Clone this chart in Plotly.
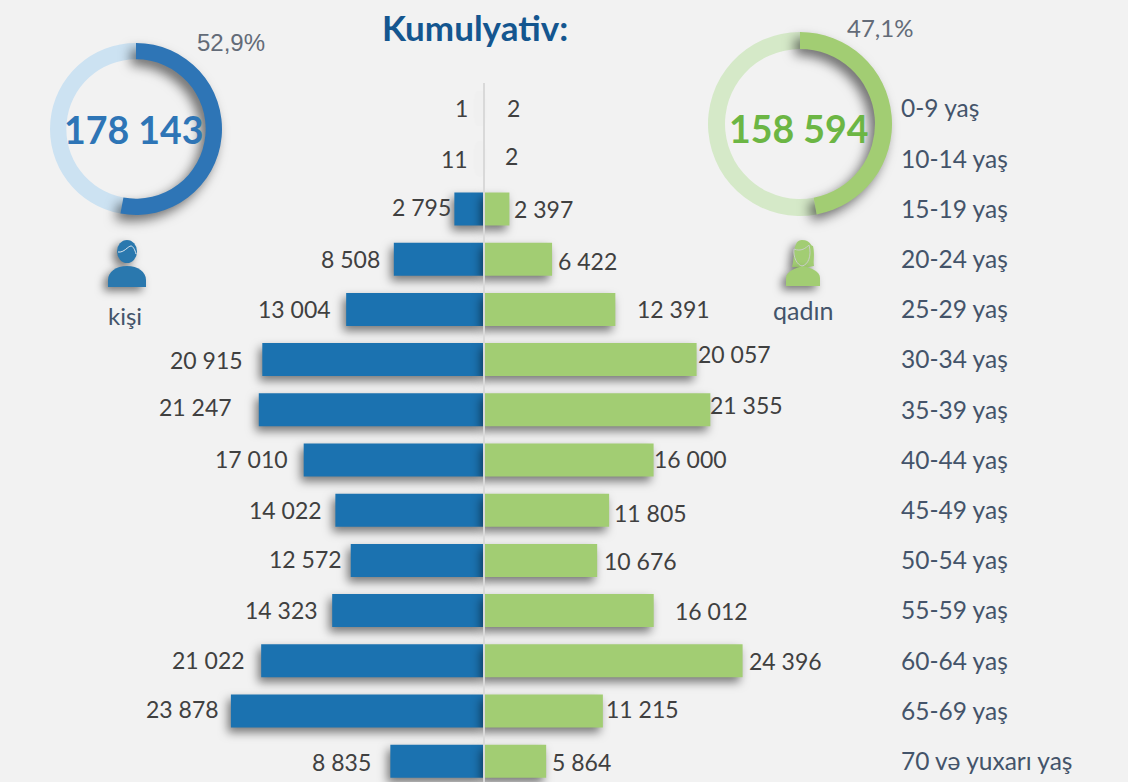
import plotly.graph_objects as go

W, H = 1128, 782
BG = "#F2F2F2"
BLUE = "#1B72B0"
GREEN = "#A2CD73"
TEXT = "#404040"
SLATE = "#44546A"

age_groups = ["0-9 yaş", "10-14 yaş", "15-19 yaş", "20-24 yaş", "25-29 yaş", "30-34 yaş", "35-39 yaş",
              "40-44 yaş", "45-49 yaş", "50-54 yaş", "55-59 yaş", "60-64 yaş", "65-69 yaş", "70 və yuxarı yaş"]
men = [1, 11, 2795, 8508, 13004, 20915, 21247, 17010, 14022, 12572, 14323, 21022, 23878, 8835]
women = [2, 2, 2397, 6422, 12391, 20057, 21355, 16000, 11805, 10676, 16012, 24396, 11215, 5864]
men_share = [52.9, 47.1]
women_share = [47.1, 52.9]
men_total = "178 143"
women_total = "158 594"

# hand-placed label nudges of the original (pixels)
men_gap = [14, 14, 1, 12, 13, 17, 25, 14, 11, 7, 12, 14, 10, 17]
men_dy = [-1, 0, -2, 0, 0, 0, -3, -1, 0, -1, -1, -1, -2, 1]
women_gap = [21, 19, 3, 4, 20, -1, -2, -2, 3, 5, 19, 4, 1, 4]
women_dy = [-1, -3, 0, 2, 0, -6, -5, -1, 3, 1, 0, 0, -2, 1]

fmt = lambda v: f"{v:,}".replace(",", " ")
px = lambda x: x / W
py = lambda y: 1 - y / H

fig = go.Figure()
fig.add_bar(y=age_groups, x=[-v for v in men], orientation="h", marker=dict(color=BLUE, line_width=0), hoverinfo="skip")
fig.add_bar(y=age_groups, x=women, orientation="h", marker=dict(color=GREEN, line_width=0), hoverinfo="skip")

def donut(cx, cy, r, hole, vals, colors):
    fig.add_pie(values=vals, sort=False, direction="clockwise", rotation=0, hole=hole,
                domain=dict(x=[px(cx - r), px(cx + r)], y=[py(cy + r), py(cy - r)]),
                marker=dict(colors=colors, line_width=0), textinfo="none", hoverinfo="skip", showlegend=False)

donut(136, 129, 86, 0.81, men_share, ["#2E75B6", "#CCE2F2"])
donut(800, 124, 92, 0.815, women_share, ["#A2CD73", "#D5E9C8"])

ann = []
def text(x, y, s, size, color, family="Lato", bold=False, anchor="center"):
    ann.append(dict(x=px(x), y=py(y), xref="paper", yref="paper", text=f"<b>{s}</b>" if bold else s, showarrow=False,
                    xanchor=anchor, yanchor="middle", font=dict(size=size, color=color, family=family)))

for i, g in enumerate(age_groups):
    ann.append(dict(x=-men[i], y=g, xref="x", yref="y", text=fmt(men[i]), showarrow=False, xanchor="right",
                    xshift=-men_gap[i], yshift=-men_dy[i], font=dict(size=23, color=TEXT, family="Lato")))
    ann.append(dict(x=women[i], y=g, xref="x", yref="y", text=fmt(women[i]), showarrow=False, xanchor="left",
                    xshift=women_gap[i], yshift=-women_dy[i], font=dict(size=23, color=TEXT, family="Lato")))
    text(899, 107.8 + 50.2 * i, g, 24.5, SLATE, anchor="left")

text(475, 27, "Kumulyativ:", 35, "#14568F", bold=True)
text(134, 129, men_total, 37.5, "#2E75B6", bold=True)
text(799, 128, women_total, 37.5, "#6CB644", bold=True)
text(231, 42, "52,9%", 24, "#636B78", family="Liberation Sans")
text(880, 28, "47,1%", 24, "#636B78", family="Lato")
text(125, 315, "kişi", 24, SLATE)
text(803, 310, "qadın", 25, SLATE)

def P(x, y):
    return f"{px(x):.5f} {py(y):.5f}"

def path(d, fill=None, line=None, width=0):
    return dict(type="path", xref="paper", yref="paper", path=d, fillcolor=fill or "rgba(0,0,0,0)",
                line=dict(color=line or "rgba(0,0,0,0)", width=width), layer="above")

def circle(x0, y0, x1, y1, fill):
    return dict(type="circle", xref="paper", yref="paper", x0=px(x0), x1=px(x1), y0=py(y1), y1=py(y0),
                fillcolor=fill, line_width=0, layer="above")

man_c = "#2A78AE"
shapes = [
    dict(type="line", xref="paper", yref="paper", x0=px(484), x1=px(484), y0=py(83), y1=0,
         line=dict(color="#D9D9D9", width=2), layer="above"),
    circle(117, 240, 137, 263, man_c),
    path(f"M {P(108,287)} L {P(108,280)} C {P(108,272)} {P(116,266)} {P(127,266)} C {P(138,266)} {P(146,272)} {P(146,280)} L {P(146,287)} Z", man_c),
    path(f"M {P(118,252)} C {P(124,253)} {P(128,246)} {P(131,246)} C {P(133,246)} {P(135,250)} {P(136,254)}", None, "#DDE8F0", 1),
    path(f"M {P(792,267)} C {P(795,258)} {P(792,240)} {P(802,240)} C {P(811,240)} {P(810,246)} {P(813,246)} C {P(815,254)} {P(813,262)} {P(814,266)} L {P(804,268)} Z", GREEN),
    path(f"M {P(786,286)} L {P(786,278)} C {P(786,271)} {P(796,268)} {P(803,266)} C {P(811,268)} {P(820,271)} {P(820,278)} L {P(820,286)} Z", GREEN),
    path(f"M {P(794,249)} C {P(801,252)} {P(806,248)} {P(809,245)} C {P(812,256)} {P(808,265)} {P(802,266)} C {P(797,265)} {P(793,257)} {P(794,249)} Z", None, "#C9CDC6", 1),
]

S = 1 / 0.0106
fig.update_layout(
    width=W, height=H, margin=dict(l=0, r=0, t=0, b=0), paper_bgcolor=BG, plot_bgcolor=BG,
    barmode="overlay", bargap=0.343, showlegend=False,
    xaxis=dict(range=[-484 * S, (W - 484) * S], visible=False, fixedrange=True),
    yaxis=dict(type="category", categoryorder="array", categoryarray=age_groups,
               range=[(H - 108.6) / 50.2, -108.6 / 50.2], visible=False, fixedrange=True),
    annotations=ann, shapes=shapes,
)

post = """
document.body.style.margin='0';
var q=function(s,f){document.querySelectorAll(s).forEach(function(e){e.style.filter=f;});};
document.querySelectorAll('.bars .point path').forEach(function(p){
  var w=p.getBBox().width;
  p.style.filter=w<2?'drop-shadow(-4px 0px 4px rgba(0,0,0,.06))':'drop-shadow(-3px 5px 5px rgba(0,0,0,.5))';
});
document.querySelectorAll('.pielayer .trace').forEach(function(t){
  var s=t.querySelector('.slice path'); if(s) s.style.filter='drop-shadow(-5px 6px 6px rgba(0,0,0,.55))';
  var g=t.querySelectorAll('.slice'); if(g.length>1) g[0].parentNode.appendChild(g[0]);
});
[1,2,4,5].forEach(function(i){q('.layer-above .shapelayer path[data-index="'+i+'"]','drop-shadow(-4px 4px 4px rgba(0,0,0,.5))');});
"""
fig.write_html("out.html", post_script=post, config=dict(displayModeBar=False))
